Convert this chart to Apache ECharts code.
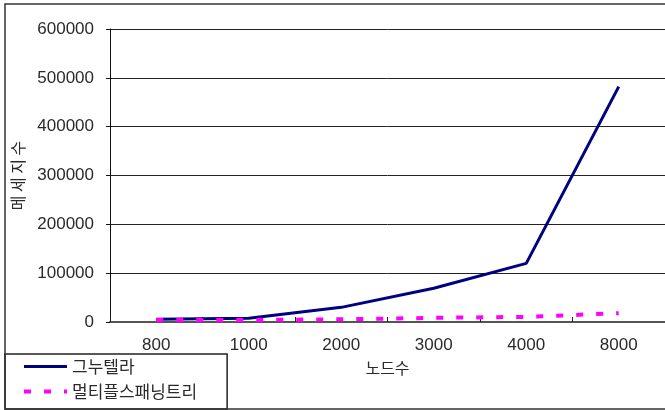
<!DOCTYPE html>
<html>
<head>
<meta charset="utf-8">
<script src="https://cdn.jsdelivr.net/npm/echarts@6/dist/echarts.min.js"></script>
<style>
  html, body { margin: 0; padding: 0; background: #fff; }
  #chart { width: 665px; height: 410px; }
</style>
</head>
<body>
<div id="chart"></div>
<script>
// Node counts on the x axis
const nodeCounts = ['800', '1000', '2000', '3000', '4000', '8000'];
// Message counts per protocol
const gnutella = [5500, 7500, 30000, 69000, 120000, 482000];
const multiSpanningTree = [4000, 4000, 5500, 8500, 10500, 18000];

const numFont = 'Liberation Sans, Arial, sans-serif';
const krFont = '"Noto Sans CJK KR", "Noto Sans", sans-serif';
const textColor = '#2a2a2a';

const solidStyle = { color: '#000080', width: 3 };
const dashStyle = { color: '#ff00ff', width: 4, type: [7, 13] };

const chart = echarts.init(document.getElementById('chart'), null, { renderer: 'canvas' });

chart.setOption({
  backgroundColor: '#fff',
  animation: false,
  grid: { left: 110, top: 29, right: -3, bottom: 88, containLabel: false },
  xAxis: {
    type: 'category',
    data: nodeCounts,
    boundaryGap: true,
    name: '노드수',
    nameLocation: 'middle',
    nameGap: 38,
    nameTextStyle: { fontFamily: krFont, fontSize: 16, color: textColor },
    axisLine: { show: true, lineStyle: { color: '#555', width: 2 } },
    axisTick: { show: true, inside: true, length: 5, lineStyle: { color: '#222' } },
    axisLabel: { margin: 15, fontFamily: numFont, fontSize: 17, color: textColor },
    splitLine: { show: false }
  },
  yAxis: {
    type: 'value',
    min: 0,
    max: 600000,
    interval: 100000,
    name: '메 세 지 수',
    nameLocation: 'middle',
    nameGap: 84,
    nameRotate: 90,
    nameTextStyle: { fontFamily: krFont, fontSize: 16, color: textColor },
    axisLine: { show: true, lineStyle: { color: '#111', width: 1 } },
    axisTick: { show: true, length: 4, lineStyle: { color: '#111' } },
    axisLabel: {
      margin: 16, fontFamily: numFont, fontSize: 17, color: textColor,
      formatter: (v) => String(v)
    },
    splitLine: { show: true, lineStyle: { color: '#222', width: 1 } }
  },
  legend: {
    orient: 'vertical',
    left: 5,
    top: 354,
    padding: [4, 30, 9, 17],
    itemGap: 8,
    itemWidth: 43,
    itemHeight: 17,
    itemStyle: { opacity: 0 },
    backgroundColor: '#fff',
    borderColor: '#222',
    borderWidth: 1.5,
    borderRadius: 0,
    textStyle: { fontFamily: krFont, fontSize: 17, color: textColor, lineHeight: 17 },
    data: [
      { name: '그누텔라', lineStyle: solidStyle },
      { name: '멀티플스패닝트리', lineStyle: dashStyle }
    ]
  },
  series: [
    {
      name: '그누텔라',
      type: 'line',
      data: gnutella,
      symbol: 'none',
      lineStyle: solidStyle,
      itemStyle: { color: '#000080' },
      z: 3
    },
    {
      name: '멀티플스패닝트리',
      type: 'line',
      data: multiSpanningTree,
      symbol: 'none',
      lineStyle: dashStyle,
      itemStyle: { color: '#ff00ff' },
      z: 4
    }
  ],
  graphic: [
    {
      type: 'rect',
      shape: { x: 5, y: 4, width: 670, height: 405 },
      style: { fill: 'none', stroke: '#333', lineWidth: 1.5 },
      silent: true,
      z: 10
    }
  ]
});
</script>
</body>
</html>
